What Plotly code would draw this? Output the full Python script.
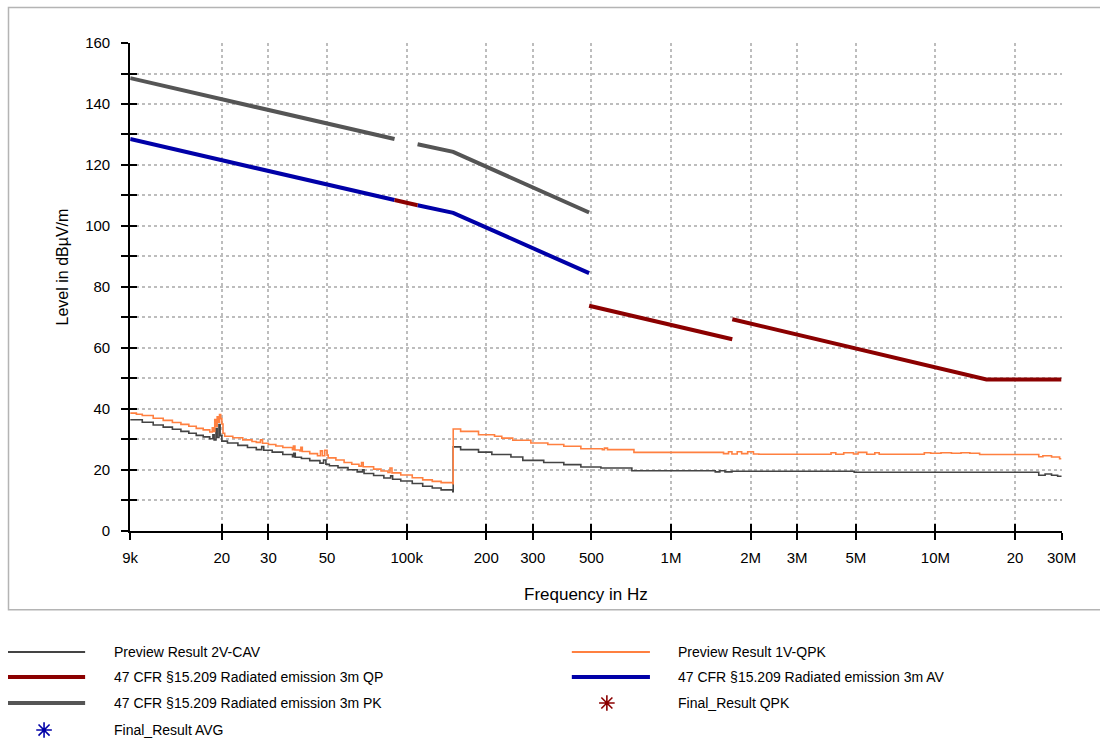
import math
import plotly.graph_objects as go

# Measured: the photographed page appears inset and scaled by ~0.978.
# Layout positions below are given in reference-picture pixels and mapped to page pixels.
SX, SY, OX, OY = 0.978, 0.976, 8.0, 10.0
W, H = 1118, 752

# ---------------- data ----------------
x_tickvals = [9e3, 2e4, 3e4, 5e4, 1e5, 2e5, 3e5, 5e5, 1e6, 2e6, 3e6, 5e6, 1e7, 2e7, 3e7]
x_ticktext = ["9k", "20", "30", "50", "100k", "200", "300", "500", "1M", "2M", "3M", "5M", "10M", "20", "30M"]
y_tickvals = list(range(0, 161, 10))
y_ticktext = [str(v) if v % 20 == 0 else "" for v in y_tickvals]

# Limit lines (None separates segments)
pk_freq = [9e3, 9e4, None, 1.1e5, 1.5e5, 4.9e5]
pk_level = [148.5, 128.5, None, 126.8, 124.3, 104.4]
av_freq = [9e3, 9e4, None, 1.1e5, 1.5e5, 4.9e5]
av_level = [128.5, 108.5, None, 106.8, 104.3, 84.5]
qp_freq = [9e4, 1.1e5, None, 4.9e5, 1.705e6, None, 1.705e6, 1.56e7, 3e7]
qp_level = [108.5, 106.8, None, 73.8, 62.8, None, 69.4, 49.6, 49.6]

# Preview Result 1V-QPK (orange)
qpk_freq = [9000, 9500, 10000, 11000, 12000, 13000, 14000, 15000, 16000, 17000, 18000,
            18400, 18600, 18800, 19000, 19200, 19400, 19600, 19800, 20000, 20200, 20500,
            22000, 24000, 26000, 27000, 28000, 28500, 30000, 32000, 34000, 37000, 37300,
            37800, 39500, 39800, 40300, 43000, 46000, 47200, 48000, 49000, 50000, 50500,
            54000, 58000, 62000, 66000, 67500, 68500, 75000, 80000, 85000, 86500, 88000,
            95000, 105000, 115000, 125000, 135000, 149500,
            150000, 160000, 187000, 215000, 229000, 252000, 295000, 342000, 393000, 456000,
            550000, 560000, 575000, 724000, 1580000, 1650000, 1700000, 1780000, 1850000,
            1950000, 2050000, 2150000, 4030000, 4200000, 4500000, 4900000, 5100000,
            5500000, 5900000, 6130000, 9080000, 9600000, 10500000, 11500000, 12500000,
            13500000, 14700000, 16000000, 24600000, 25500000, 27500000, 29500000, 30000000]
qpk_level = [38.6, 38.2, 37.8, 36.9, 36.2, 35.5, 34.9, 34.3, 33.6, 33.1, 32.4,
             33.8, 32.6, 36.5, 34.2, 37.4, 35.6, 38.1, 36.8, 35.0, 32.0, 31.0,
             30.5, 29.8, 29.3, 29.0, 29.8, 28.7, 28.3, 27.8, 27.3, 26.6, 27.8,
             26.5, 26.2, 27.4, 26.0, 25.3, 24.6, 26.2, 24.6, 26.4, 24.8, 23.9,
             23.2, 22.4, 21.8, 21.2, 22.4, 21.0, 20.2, 19.6, 19.1, 20.6, 19.0,
             18.3, 17.4, 16.7, 16.2, 15.8, 15.4,
             33.4, 32.6, 31.5, 31.0, 30.4, 29.7, 28.8, 28.3, 27.7, 26.9,
             26.6, 27.1, 26.6, 25.7, 25.3, 25.9, 25.2, 25.9, 25.3,
             25.9, 25.2, 25.1, 25.6, 25.1, 25.6, 25.2, 25.7,
             25.1, 25.6, 25.1, 25.6, 25.4, 25.6, 25.4, 25.6,
             25.4, 25.0, 25.0, 24.3, 24.6, 24.2, 23.6, 23.6]

# Preview Result 2V-CAV (dark grey)
cav_freq = [9000, 10000, 11000, 12000, 13000, 14000, 15000, 16000, 17000, 18000,
            18500, 18700, 19000, 19200, 19500, 19700, 20000, 21000, 23000, 25000,
            27000, 28300, 28800, 31000, 34000, 37000, 37400, 37900, 40000, 43000,
            47000, 48500, 49500, 51000, 55000, 60000, 65000, 68000, 69000, 75000,
            82000, 87000, 88500, 95000, 105000, 115000, 125000, 135000, 149500,
            150000, 160000, 187000, 210000, 248000, 275000, 330000, 393000, 456000,
            543000, 711000, 1470000, 1530000, 1600000, 1700000, 4930000, 23700000,
            24600000, 26000000, 27500000, 29000000, 30000000]
cav_level = [36.4, 35.6, 34.7, 34.0, 33.3, 32.6, 32.0, 31.3, 30.8, 30.2,
             31.5, 29.8, 33.5, 30.6, 34.8, 31.2, 29.4, 28.8, 28.0, 27.3,
             26.6, 27.6, 26.4, 25.8, 25.0, 24.3, 25.4, 24.1, 23.7, 23.0,
             22.2, 23.2, 21.8, 21.3, 20.7, 20.0, 19.3, 20.0, 18.8, 18.1,
             17.3, 18.0, 16.9, 16.3, 15.5, 14.6, 14.0, 13.4, 12.8,
             27.5, 26.6, 25.8, 25.0, 24.2, 23.1, 22.4, 21.7, 20.9,
             20.6, 19.7, 19.3, 19.7, 19.3, 19.5, 19.2, 19.2,
             18.2, 18.6, 18.2, 17.9, 17.6]

legend_names = [
    "Preview Result 2V-CAV",
    "Preview Result 1V-QPK",
    "47 CFR §15.209 Radiated emission 3m QP",
    "47 CFR §15.209 Radiated emission 3m AV",
    "47 CFR §15.209 Radiated emission 3m PK",
    "Final_Result QPK",
    "Final_Result AVG",
]

# ---------------- colours / layout constants ----------------
C_CAV = "#444444"
C_QPK = "#FF8040"
C_QP = "#8B0000"
C_AV = "#0000A8"
C_PK = "#555555"
FONT = "Liberation Sans, Arial, sans-serif"

# plot area in reference pixels
PL, PR, PT, PB = 130, 1060, 44, 531


def pgx(x):
    return (x - OX) / SX


def pgy(y):
    return (y - OY) / SY


def px(x):
    return pgx(x) / W


def py(y):
    return 1 - pgy(y) / H


fig = go.Figure()

fig.add_trace(go.Scatter(x=pk_freq, y=pk_level, mode="lines", name=legend_names[4],
                         line=dict(color=C_PK, width=4), showlegend=False))
fig.add_trace(go.Scatter(x=av_freq, y=av_level, mode="lines", name=legend_names[3],
                         line=dict(color=C_AV, width=4), showlegend=False))
fig.add_trace(go.Scatter(x=qp_freq, y=qp_level, mode="lines", name=legend_names[2],
                         line=dict(color=C_QP, width=4), showlegend=False))
fig.add_trace(go.Scatter(x=cav_freq, y=cav_level, mode="lines", name=legend_names[0],
                         line=dict(color=C_CAV, width=1.6, shape="hv"), showlegend=False))
fig.add_trace(go.Scatter(x=qpk_freq, y=qpk_level, mode="lines", name=legend_names[1],
                         line=dict(color=C_QPK, width=1.6, shape="hv"), showlegend=False))

# dummy trace for the inner (crossing) tick marks
fig.add_trace(go.Scatter(x=[None], y=[None], xaxis="x2", yaxis="y2", showlegend=False,
                         hoverinfo="skip"))

# legend asterisks on a full-figure axis expressed in reference pixels
fig.add_trace(go.Scatter(x=[44, 606], y=[730, 703], xaxis="x3", yaxis="y3", mode="markers",
                         marker=dict(symbol="asterisk-open", size=13, color=[C_AV, C_QP],
                                     line=dict(width=1.6, color=[C_AV, C_QP])),
                         cliponaxis=False, showlegend=False, hoverinfo="skip"))

xr = [math.log10(9e3), math.log10(3e7)]
dom_x = [px(PL), px(PR)]
dom_y = [py(PB), py(PT)]

axis_common = dict(showline=True, linecolor="black", linewidth=2, ticks="outside",
                   ticklen=7, tickwidth=2, tickcolor="black", zeroline=False,
                   showgrid=True, gridcolor="#bdbdbd", griddash="dot", gridwidth=1.5,
                   tickfont=dict(family=FONT, size=15, color="black"))

fig.update_layout(
    width=W, height=H,
    margin=dict(l=0, r=0, t=0, b=0),
    paper_bgcolor="white", plot_bgcolor="rgba(0,0,0,0)",
    showlegend=False,
    xaxis=dict(type="log", range=xr, domain=dom_x, tickvals=x_tickvals, ticktext=x_ticktext,
               anchor="y", ticklabelstandoff=5, **axis_common),
    yaxis=dict(range=[0, 160], domain=dom_y, tickvals=y_tickvals, ticktext=y_ticktext,
               anchor="x", ticklabelstandoff=8, **axis_common),
    xaxis2=dict(type="log", range=xr, overlaying="x", anchor="y2", tickvals=x_tickvals,
                ticks="inside", ticklen=7, tickwidth=2, tickcolor="black",
                showticklabels=False, showgrid=False, showline=False, zeroline=False),
    yaxis2=dict(range=[0, 160], overlaying="y", anchor="x2", tickvals=y_tickvals,
                ticks="inside", ticklen=7, tickwidth=2, tickcolor="black",
                showticklabels=False, showgrid=False, showline=False, zeroline=False),
    xaxis3=dict(domain=[0, 1], range=[OX, OX + W * SX], anchor="y3", visible=False,
                fixedrange=True),
    yaxis3=dict(domain=[0, 1], range=[OY + H * SY, OY], anchor="x3", visible=False,
                fixedrange=True),
)

shapes = [dict(type="rect", xref="paper", yref="paper", x0=px(8.5), x1=px(1115),
               y0=py(610), y1=py(8.5), line=dict(color="#b4b4b4", width=1.5), layer="below")]

# manual legend
legend_rows = [652, 677, 703, 730]
col_line = [(8, 85), (571, 649)]
col_text = [112, 675]
legend_items = [
    (0, 0, legend_names[0], C_CAV, 2),
    (1, 0, legend_names[1], C_QPK, 2),
    (0, 1, legend_names[2], C_QP, 4),
    (1, 1, legend_names[3], C_AV, 4),
    (0, 2, legend_names[4], C_PK, 4),
    (1, 2, legend_names[5], None, 0),
    (0, 3, legend_names[6], None, 0),
]
annotations = []
for col, row, name, color, width in legend_items:
    yy = legend_rows[row]
    if color is not None:
        shapes.append(dict(type="line", xref="paper", yref="paper",
                           x0=px(col_line[col][0]), x1=px(col_line[col][1]),
                           y0=py(yy), y1=py(yy), line=dict(color=color, width=width)))
    annotations.append(dict(text=name, xref="paper", yref="paper", x=px(col_text[col]),
                            y=py(yy), xanchor="left", yanchor="middle", showarrow=False,
                            font=dict(family=FONT, size=14, color="black")))

annotations.append(dict(text="Frequency in Hz", xref="paper", yref="paper", x=px(585),
                        y=py(595), xanchor="center", yanchor="middle", showarrow=False,
                        font=dict(family=FONT, size=17, color="black")))
annotations.append(dict(text="Level in dBµV/m", xref="paper", yref="paper", x=px(62),
                        y=py(268), xanchor="center", yanchor="middle", showarrow=False,
                        textangle=-90, font=dict(family=FONT, size=16, color="black")))

fig.update_layout(shapes=shapes, annotations=annotations)

fig.write_html("out.html", config={"displayModeBar": False},
               post_script="document.body.style.margin='0';")
